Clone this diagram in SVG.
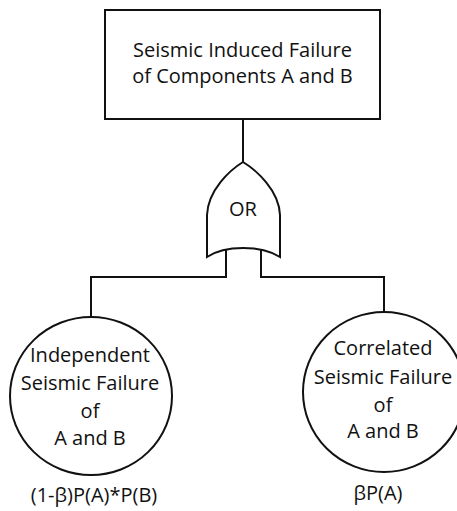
<svg xmlns="http://www.w3.org/2000/svg" width="457" height="511" viewBox="0 0 457 511">
<style>
  .shape { fill: #ffffff; stroke: #111111; stroke-width: 2; }
  .conn { fill: none; stroke: #111111; stroke-width: 2; }
  text { font-family: "Open Sans", "Liberation Sans", sans-serif; font-size: 20px; fill: #111111; text-anchor: middle; }
</style>
<rect width="457" height="511" fill="#ffffff"/>
<g id="connectors">
  <line class="conn" x1="243" y1="119" x2="243" y2="163"/>
  <polyline class="conn" points="226,249 226,277 91,277 91,317"/>
  <polyline class="conn" points="261,249 261,277 384,277 384,312"/>
</g>
<g id="top-event">
  <rect class="shape" x="105" y="10" width="275" height="109"/>
  <text x="242.5" y="57">Seismic Induced Failure</text>
  <text x="242.5" y="83">of Components A and B</text>
</g>
<g id="or-gate">
  <path class="shape" d="M 243 162 C 230 170, 208 190, 207 215 L 207 257 C 225 245, 261 245, 280 257 L 280 215 C 279 190, 256 170, 243 162 Z"/>
  <text x="243" y="216">OR</text>
</g>
<g id="independent">
  <ellipse class="shape" cx="91" cy="396" rx="81" ry="79"/>
  <text x="90" y="362">Independent</text>
  <text x="90" y="390">Seismic Failure</text>
  <text x="90" y="418">of</text>
  <text x="90" y="445">A and B</text>
  <text x="94" y="502">(1-β)P(A)*P(B)</text>
</g>
<g id="correlated">
  <ellipse class="shape" cx="384" cy="392" rx="81" ry="80"/>
  <text x="383" y="355">Correlated</text>
  <text x="383" y="384">Seismic Failure</text>
  <text x="383" y="412">of</text>
  <text x="383" y="438">A and B</text>
  <text x="378" y="500">βP(A)</text>
</g>
</svg>
